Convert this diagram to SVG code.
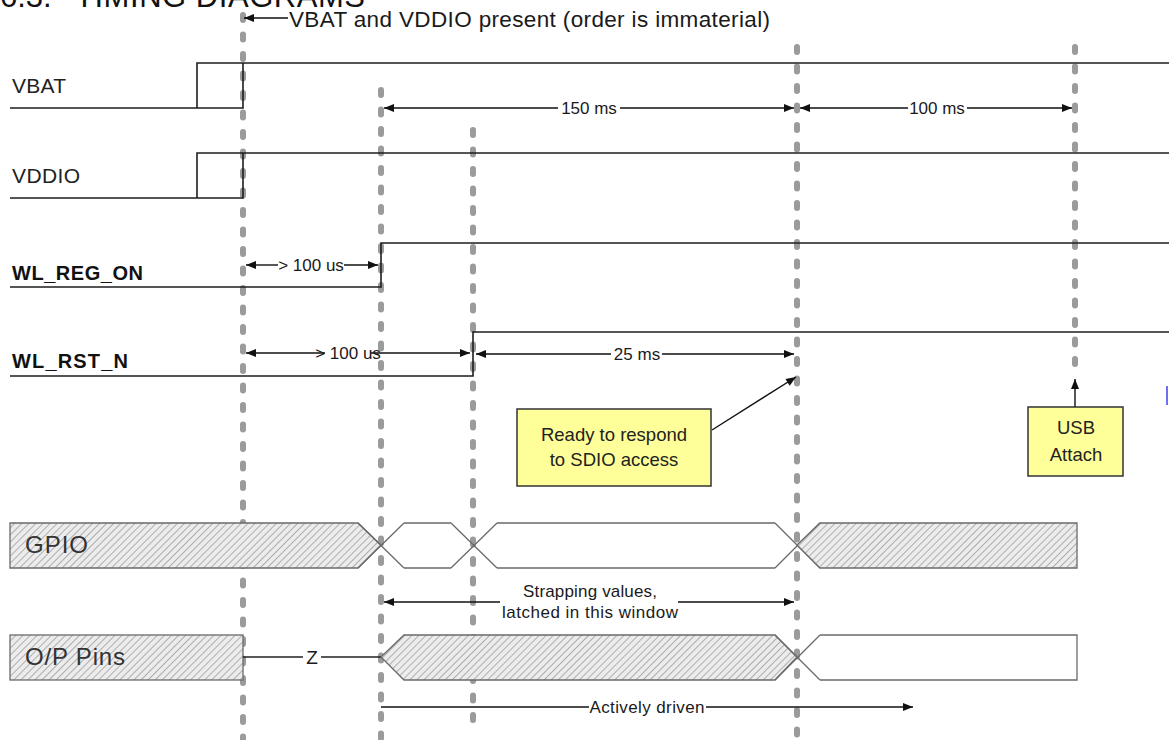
<svg xmlns="http://www.w3.org/2000/svg" width="1169" height="740" viewBox="0 0 1169 740">
<defs>
<style>
.sig{fill:none;stroke:#1e1e1e;stroke-width:1.6}
.dash{stroke:#9b9b9b;stroke-width:6;stroke-dasharray:5 14.5;stroke-linecap:round;fill:none}
.dim{stroke:#111;stroke-width:1.4;fill:none}
.lbl{font-family:"Liberation Sans",Arial,sans-serif;font-size:21px;fill:#222}
.blbl{font-family:"Liberation Sans",Arial,sans-serif;font-size:20px;font-weight:bold;fill:#111}
.ann{font-family:"Liberation Sans",Arial,sans-serif;font-size:17px;fill:#1a1a1a}
.bus{stroke:#6a6a6a;stroke-width:1.3;fill:none}
.hatch{fill:url(#hp);stroke:#6a6a6a;stroke-width:1.3}
.box{fill:#ffff99;stroke:#333;stroke-width:1.5}
.boxt{font-family:"Liberation Sans",Arial,sans-serif;font-size:18.5px;fill:#222;text-anchor:middle}
.buslbl{font-family:"Liberation Sans",Arial,sans-serif;font-size:24px;fill:#333}
</style>
<pattern id="hp" width="5" height="5" patternUnits="userSpaceOnUse" patternTransform="rotate(45)">
<rect width="5" height="5" fill="#ececec"/>
<line x1="0" y1="0" x2="0" y2="5" stroke="#9a9a9a" stroke-width="1.5"/>
</pattern>
<marker id="ah" viewBox="0 0 10 8" refX="10" refY="4" markerWidth="11" markerHeight="8" markerUnits="userSpaceOnUse" orient="auto-start-reverse">
<path d="M0,0 L10,4 L0,8 z" fill="#111"/>
</marker>
</defs>
<rect width="1169" height="740" fill="#ffffff"/>

<g id="title">
<text x="0" y="7" style="font-family:'Liberation Sans',Arial,sans-serif;font-size:31px;fill:#111">6.3.</text>
<text x="75" y="7" textLength="290" style="font-family:'Liberation Sans',Arial,sans-serif;font-size:31px;fill:#111">TIMING DIAGRAMS</text>
</g>

<g id="gridlines">
<line class="dash" x1="243" y1="15" x2="243" y2="740"/>
<line class="dash" x1="381" y1="90" x2="381" y2="740"/>
<line class="dash" x1="473" y1="130" x2="473" y2="730"/>
<line class="dash" x1="797" y1="47" x2="797" y2="740"/>
<line class="dash" x1="1075" y1="47" x2="1075" y2="378"/>
</g>

<g id="labels">
<text class="lbl" x="12" y="93" textLength="54">VBAT</text>
<text class="lbl" x="12" y="183" textLength="68">VDDIO</text>
<text class="blbl" x="12" y="280" textLength="131">WL_REG_ON</text>
<text class="blbl" x="12" y="368" textLength="116">WL_RST_N</text>
</g>

<g id="sig-vbat"><path class="sig" d="M10,108 H243 V63 M197,108 V63 H1169"/></g>
<g id="sig-vddio"><path class="sig" d="M10,198 H243 V153 M197,198 V153 H1169"/></g>
<g id="sig-wl-reg-on"><path class="sig" d="M10,287 H381 V243 H1169"/></g>
<g id="sig-wl-rst-n"><path class="sig" d="M10,376 H473 V332 H1169"/></g>

<g id="bus-gpio">
<polygon class="hatch" points="10,523 358,523 381,545 358,568 10,568"/>
<text class="buslbl" x="25" y="553" textLength="63">GPIO</text>
<path class="bus" d="M358,523 L404,568 M358,568 L404,523 M404,523 H451 M404,568 H451 M451,523 L497,568 M451,568 L497,523 M497,523 H775 M497,568 H775 M775,523 L820,568 M775,568 L820,523"/>
<polygon class="hatch" points="797,545 820,523 1077,523 1077,568 820,568"/>
</g>

<g id="bus-op-pins">
<rect class="hatch" x="10" y="635" width="233" height="45"/>
<text class="buslbl" x="25" y="665" textLength="100">O/P Pins</text>
<path class="bus" d="M243,657 H303 M321,657 H381" style="stroke:#222"/>
<text class="ann" x="312" y="664" text-anchor="middle" style="font-size:19px">Z</text>
<polygon class="hatch" points="381,657 404,635 775,635 797,657 775,680 404,680"/>
<path class="bus" d="M775,635 L820,680 M775,680 L820,635 M820,635 H1077 V680 H820"/>
</g>

<g id="connectors">
<line class="dim" x1="288" y1="18" x2="244" y2="18" marker-end="url(#ah)"/>
<line class="dim" x1="384" y1="108" x2="558" y2="108" marker-start="url(#ah)"/>
<line class="dim" x1="620" y1="108" x2="794" y2="108" marker-end="url(#ah)"/>
<line class="dim" x1="800" y1="108" x2="908" y2="108" marker-start="url(#ah)"/>
<line class="dim" x1="967" y1="108" x2="1072" y2="108" marker-end="url(#ah)"/>
<line class="dim" x1="246" y1="265" x2="278" y2="265" marker-start="url(#ah)"/>
<line class="dim" x1="344" y1="265" x2="378" y2="265" marker-end="url(#ah)"/>
<line class="dim" x1="246" y1="353" x2="325" y2="353" marker-start="url(#ah)"/>
<line class="dim" x1="371" y1="353" x2="470" y2="353" marker-end="url(#ah)"/>
<line class="dim" x1="476" y1="354" x2="611" y2="354" marker-start="url(#ah)"/>
<line class="dim" x1="662" y1="354" x2="794" y2="354" marker-end="url(#ah)"/>
<line class="dim" x1="712" y1="430" x2="796" y2="377" marker-end="url(#ah)"/>
<line class="dim" x1="1075" y1="407" x2="1075" y2="379" marker-end="url(#ah)"/>
<line class="dim" x1="384" y1="602" x2="500" y2="602" marker-start="url(#ah)"/>
<line class="dim" x1="678" y1="602" x2="794" y2="602" marker-end="url(#ah)"/>
<line class="dim" x1="381" y1="707" x2="589" y2="707"/>
<line class="dim" x1="706" y1="707" x2="913" y2="707" marker-end="url(#ah)"/>
</g>

<g id="annotations">
<text class="ann" x="289" y="27" textLength="481" style="font-size:22.5px">VBAT and VDDIO present (order is immaterial)</text>
<text class="ann" x="589" y="114" text-anchor="middle">150 ms</text>
<text class="ann" x="937" y="114" text-anchor="middle">100 ms</text>
<text class="ann" x="311" y="271" text-anchor="middle">&gt; 100 us</text>
<text class="ann" x="348" y="359" text-anchor="middle">&gt; 100 us</text>
<text class="ann" x="637" y="360" text-anchor="middle">25 ms</text>
<text class="ann" x="590" y="597" text-anchor="middle" textLength="134">Strapping values,</text>
<text class="ann" x="590" y="618" text-anchor="middle" textLength="176">latched in this window</text>
<text class="ann" x="647" y="713" text-anchor="middle" textLength="115">Actively driven</text>
</g>

<g id="callout-sdio">
<rect class="box" x="517" y="409" width="194" height="77"/>
<text class="boxt" x="614" y="441">Ready to respond</text>
<text class="boxt" x="614" y="466">to SDIO access</text>
</g>

<g id="callout-usb">
<rect class="box" x="1028" y="407" width="95" height="69"/>
<text class="boxt" x="1076" y="434">USB</text>
<text class="boxt" x="1076" y="461">Attach</text>
</g>

<rect id="edge-mark" x="1166" y="386" width="2" height="19" fill="#6f6ff5"/>
</svg>
